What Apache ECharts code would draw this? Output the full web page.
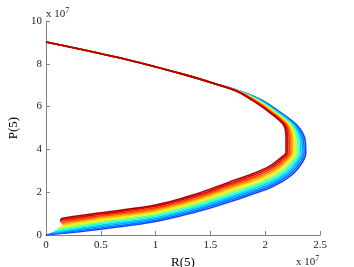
<!DOCTYPE html>
<html>
<head>
<meta charset="utf-8">
<script src="https://cdn.jsdelivr.net/npm/echarts@6/dist/echarts.min.js"></script>
<style>html,body{margin:0;padding:0;background:#fff;}#c{width:354px;height:267px;}</style>
</head>
<body>
<div id="c"></div>
<script>
// Shared upper branch (all curves coincide here), units of 1e7
const upperBranch = [[0,9.02],[0.67,8.28],[1.28,7.47],[1.54,7.07]];
// Per-curve remainder, outermost (blue) to innermost (dark red)
const c0  = [[1.77,6.72],[1.970,6.30],[2.136,5.74],[2.29,5.13],[2.360,4.53],[2.370,3.87],[2.340,3.41],[2.240,2.800],[2.060,2.24],[1.67,1.54],[1.40,1.12],[1.00,0.63],[0.50,0.27],[0.00,0.00]];
const c1  = [[1.77,6.72],[1.963,6.30],[2.128,5.74],[2.28,5.13],[2.346,4.53],[2.355,3.87],[2.324,3.43],[2.223,2.835],[2.045,2.29],[1.67,1.62],[1.40,1.19],[1.00,0.69],[0.50,0.33],[0.03,0.04]];
const c2  = [[1.77,6.72],[1.955,6.30],[2.119,5.74],[2.27,5.13],[2.332,4.53],[2.340,3.87],[2.308,3.45],[2.207,2.870],[2.030,2.34],[1.67,1.70],[1.40,1.26],[1.00,0.76],[0.50,0.40],[0.05,0.08]];
const c3  = [[1.76,6.72],[1.948,6.30],[2.111,5.74],[2.26,5.13],[2.318,4.53],[2.325,3.87],[2.293,3.47],[2.190,2.905],[2.015,2.39],[1.67,1.77],[1.40,1.33],[1.00,0.82],[0.50,0.46],[0.07,0.13]];
const c4  = [[1.76,6.72],[1.940,6.30],[2.103,5.74],[2.25,5.13],[2.303,4.53],[2.310,3.87],[2.277,3.49],[2.173,2.940],[2.000,2.44],[1.67,1.85],[1.40,1.40],[1.00,0.89],[0.50,0.53],[0.08,0.19]];
const c5  = [[1.76,6.72],[1.933,6.30],[2.094,5.74],[2.24,5.13],[2.289,4.53],[2.295,3.87],[2.261,3.51],[2.157,2.975],[1.985,2.49],[1.67,1.93],[1.40,1.47],[1.00,0.95],[0.50,0.59],[0.10,0.26]];
const c6  = [[1.76,6.72],[1.925,6.30],[2.086,5.74],[2.23,5.13],[2.275,4.53],[2.280,3.87],[2.245,3.53],[2.140,3.010],[1.970,2.54],[1.67,2.01],[1.40,1.54],[1.00,1.02],[0.50,0.66],[0.11,0.33]];
const c7  = [[1.75,6.72],[1.918,6.30],[2.078,5.74],[2.22,5.13],[2.261,4.53],[2.265,3.87],[2.229,3.54],[2.123,3.045],[1.955,2.60],[1.67,2.08],[1.40,1.61],[1.00,1.08],[0.50,0.72],[0.14,0.42]];
const c8  = [[1.75,6.72],[1.910,6.30],[2.069,5.74],[2.21,5.13],[2.247,4.53],[2.250,3.87],[2.213,3.56],[2.107,3.080],[1.940,2.65],[1.67,2.16],[1.40,1.68],[1.00,1.14],[0.50,0.78],[0.16,0.50]];
const c9  = [[1.75,6.72],[1.903,6.30],[2.061,5.74],[2.20,5.13],[2.233,4.53],[2.235,3.87],[2.198,3.58],[2.090,3.115],[1.925,2.70],[1.67,2.24],[1.40,1.75],[1.00,1.21],[0.50,0.85],[0.17,0.57],[0.15,0.49]];
const c10 = [[1.75,6.72],[1.895,6.30],[2.053,5.74],[2.19,5.13],[2.218,4.53],[2.220,3.87],[2.182,3.60],[2.073,3.150],[1.910,2.75],[1.67,2.32],[1.40,1.82],[1.00,1.27],[0.50,0.91],[0.16,0.64],[0.14,0.55]];
const c11 = [[1.74,6.72],[1.888,6.30],[2.044,5.74],[2.18,5.13],[2.204,4.53],[2.205,3.87],[2.166,3.62],[2.057,3.185],[1.895,2.80],[1.67,2.39],[1.40,1.89],[1.00,1.34],[0.50,0.98],[0.15,0.71],[0.13,0.62]];
const c12 = [[1.74,6.72],[1.880,6.30],[2.036,5.74],[2.17,5.13],[2.190,4.53],[2.190,3.87],[2.150,3.64],[2.040,3.220],[1.880,2.85],[1.67,2.47],[1.40,1.96],[1.00,1.40],[0.50,1.04],[0.15,0.78],[0.13,0.68]];
const curves = [c0,c1,c2,c3,c4,c5,c6,c7,c8,c9,c10,c11,c12];
const colors = ['#2040ff','#0070ff','#00a0ff','#00d0ff','#20ffe0','#70ff90','#c0ff40','#ffee00','#ffb000','#ff7000','#ff3000','#e00000','#b00000'];
const xTicks = [0,0.5,1,1.5,2,2.5];
const yTicks = [0,2,4,6,8,10];

const font = 'Liberation Serif';
const chart = echarts.init(document.getElementById('c'));
chart.setOption({
  animation:false,
  backgroundColor:'#fff',
  grid:{left:46,top:21,width:274,height:214,containLabel:false,outerBoundsMode:'none'},
  xAxis:{type:'value',min:xTicks[0],max:xTicks[xTicks.length-1],interval:0.5,
    name:'R(5)',nameLocation:'middle',nameGap:16,
    nameTextStyle:{fontFamily:font,fontSize:13,color:'#000'},
    axisLine:{lineStyle:{color:'#808080',width:1}},
    axisTick:{inside:true,length:4,lineStyle:{color:'#808080'}},
    axisLabel:{fontFamily:font,fontSize:11,color:'#222',margin:5},
    splitLine:{show:false}},
  yAxis:{type:'value',min:yTicks[0],max:yTicks[yTicks.length-1],interval:2,
    name:'P(5)',nameLocation:'middle',nameGap:21,
    nameTextStyle:{fontFamily:font,fontSize:13,color:'#000'},
    axisLine:{lineStyle:{color:'#808080',width:1}},
    axisTick:{inside:true,length:4,lineStyle:{color:'#808080'}},
    axisLabel:{fontFamily:font,fontSize:11,color:'#222',margin:4},
    splitLine:{show:false}},
  series: curves.map((c,i)=>({
    type:'line',data:upperBranch.concat(c),showSymbol:false,symbol:'none',
    smooth:0.3,
    lineStyle:{color:colors[i],width:1.6},z:2+i,silent:true
  })),
  graphic:[
    {type:'text',left:46,top:7,style:{text:'x 10{s|7}',fontFamily:font,fontSize:11,fill:'#222',
      rich:{s:{fontSize:8,verticalAlign:'top',padding:[0,0,6,0],fontFamily:font,fill:'#222'}}}},
    {type:'text',left:296,top:255,style:{text:'x 10{s|7}',fontFamily:font,fontSize:11,fill:'#222',
      rich:{s:{fontSize:8,verticalAlign:'top',padding:[0,0,6,0],fontFamily:font,fill:'#222'}}}}
  ]
});
</script>
</body>
</html>
